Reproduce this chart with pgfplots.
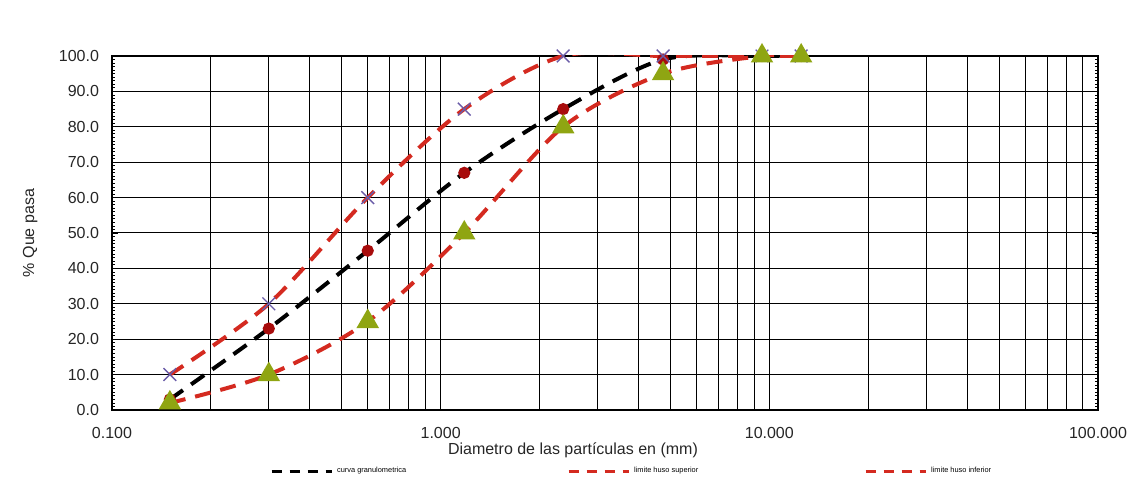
\documentclass[border=0pt]{standalone}
\usepackage{fontspec}
\setmainfont{Liberation Sans}
\usepackage{pgfplots}
\pgfplotsset{compat=1.18}
\definecolor{limred}{HTML}{D42A20}
\definecolor{xpurple}{HTML}{6A5CA8}
\definecolor{triolive}{HTML}{8FA512}
\definecolor{dotred}{HTML}{A80C0C}
\begin{document}
\begin{tikzpicture}
\useasboundingbox (-56pt,-41pt) rectangle (516pt,205pt);
\begin{semilogxaxis}[
  scale only axis, width=493pt, height=177pt,
  at={(0,0)}, anchor=south west,
  xmin=0.1, xmax=100, ymin=0, ymax=100,
  /pgf/number format/assume math mode=true,
  xtick={0.1,1,10,100}, xticklabels={0.100,1.000,10.000,100.000},
  ytick={0,10,...,100},
  minor y tick num=9,
  yticklabel={\pgfmathprintnumber[fixed,fixed zerofill,precision=1]{\tick}},
  xmajorgrids=true, xminorgrids=true, ymajorgrids=true,
  major grid style={black, line width=0.5pt},
  minor grid style={black, line width=0.5pt},
  axis line style={black, line width=0.8pt},
  tick align=inside,
  major tick length=3pt, minor tick length=1.5pt,
  x tick style={draw=none},
  y tick style={black, line width=0.4pt},
  tick label style={font=\fontsize{8}{9.6}\selectfont, text=black!85},
  xticklabel style={yshift=-5pt},
  yticklabel style={xshift=-3pt},
  label style={font=\fontsize{8}{9.6}\selectfont, text=black!85},
  xlabel={Diametro de las partículas en (mm)},
  xlabel style={at={(axis description cs:0.4675,0)}, anchor=center, yshift=-20pt},
  ylabel={\% Que pasa},
  ylabel style={at={(axis description cs:-0.083,0.5)}, anchor=center},
  legend columns=3,
  legend image code/.code={\draw[#1] (0pt,0pt) -- (30pt,0pt);},
  legend style={at={(axis description cs:0.16,0)}, anchor=west, yshift=-30.5pt,
    draw=none, fill=none, inner sep=0pt,
    font=\fontsize{3.7}{4.5}\selectfont,
    /tikz/every even column/.append style={column sep=73pt}},
]
% curva granulometrica
\addplot[black, line width=2pt, dash pattern=on 8pt off 5pt, smooth, tension=0.5,
  mark=*, mark size=2pt, mark options={solid, fill=dotred, draw=dotred}, forget plot]
  coordinates {(0.15,3) (0.3,23) (0.6,45) (1.18,67) (2.36,85) (4.75,99) (9.5,100) (12.5,100)};
% limite huso superior
\addplot[limred, line width=2pt, dash pattern=on 8pt off 5pt, smooth, tension=0.5,
  mark=x, mark size=4.5pt, mark options={solid, draw=xpurple, line width=0.7pt}, forget plot]
  coordinates {(0.15,10) (0.3,30) (0.6,60) (1.18,85) (2.36,100) (4.75,100) (9.5,100) (12.5,100)};
% limite huso inferior
\addplot[limred, line width=2pt, dash pattern=on 8pt off 5pt, smooth, tension=0.5,
  mark=triangle*, mark size=4.5pt, mark options={solid, fill=triolive, draw=triolive}, forget plot]
  coordinates {(0.15,2) (0.3,10) (0.6,25) (1.18,50) (2.36,80) (4.75,95) (9.5,100) (12.5,100)};
\addlegendimage{black, line width=1.5pt, dash pattern=on 5pt off 4pt}
\addlegendentry{\makebox[40pt][l]{curva granulometrica}}
\addlegendimage{limred, line width=1.5pt, dash pattern=on 5pt off 4pt}
\addlegendentry{\makebox[40pt][l]{limite huso superior}}
\addlegendimage{limred, line width=1.5pt, dash pattern=on 5pt off 4pt}
\addlegendentry{\makebox[40pt][l]{limite huso inferior}}
\end{semilogxaxis}
\end{tikzpicture}
\end{document}
